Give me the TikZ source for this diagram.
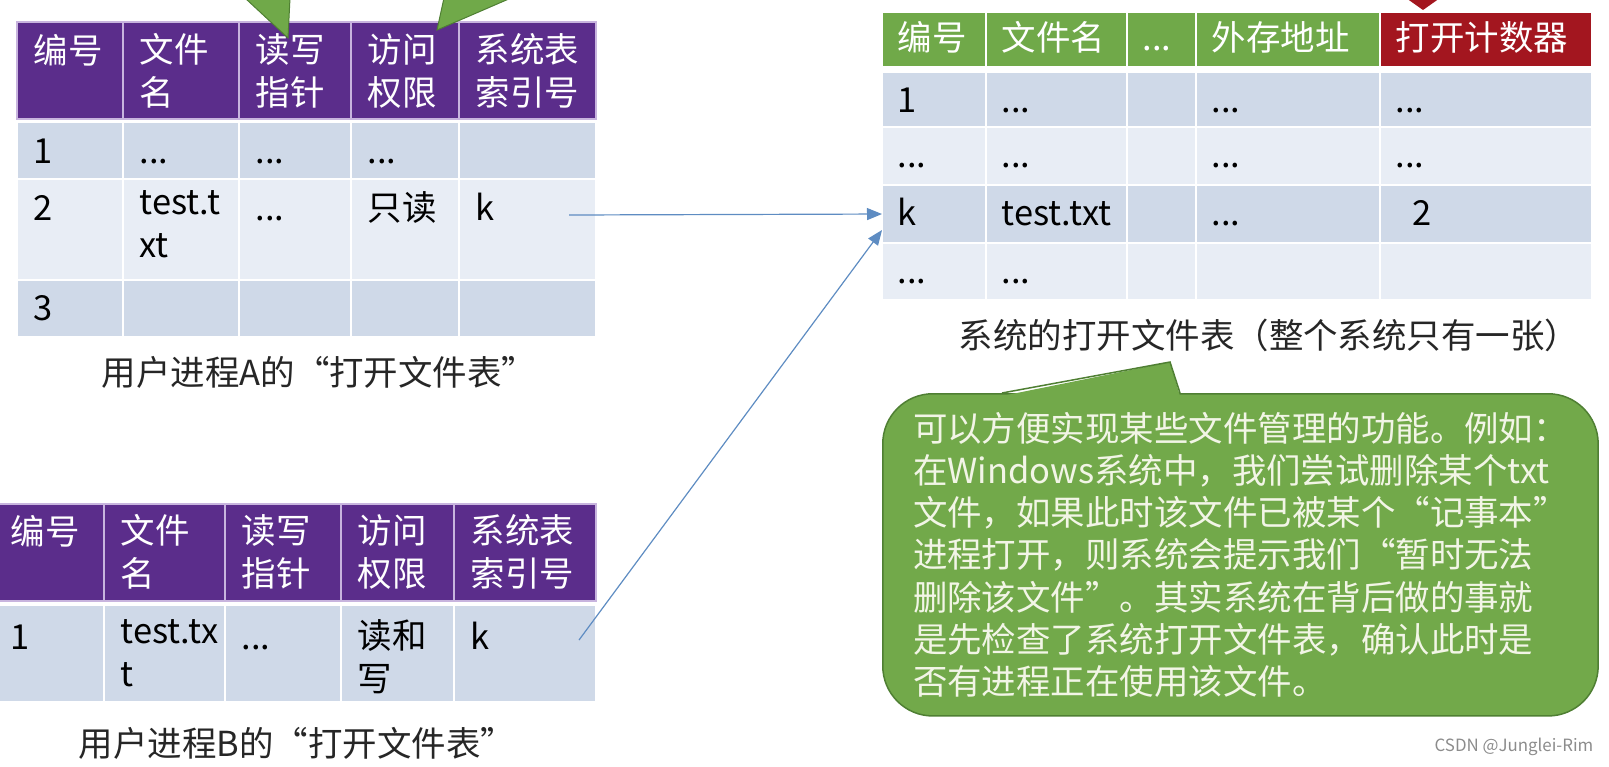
\documentclass[tikz,border=0pt]{standalone}
\usepackage{fontspec}
\setmainfont{Noto Sans CJK SC}
\usetikzlibrary{arrows.meta}
\definecolor{hdrpurple}{HTML}{5B2D8B}
\definecolor{hdrline}{HTML}{C8B4DE}
\definecolor{hdrgreen}{HTML}{70A949}
\definecolor{hdrred}{HTML}{A3161F}
\definecolor{bodydark}{HTML}{CFD9E8}
\definecolor{bodylight}{HTML}{E8EDF5}
\definecolor{notegreen}{HTML}{72A94A}
\definecolor{notedark}{HTML}{4F7F33}
\definecolor{notetext}{HTML}{F2F5E6}
\definecolor{ptrblue}{HTML}{5E8CC2}
\definecolor{captext}{HTML}{262626}
\newcommand\cellfont{\fontsize{9.8pt}{12.1pt}\selectfont}
\newcommand\etc{...}

\begin{document}
\begin{tikzpicture}[x=0.01cm,y=-0.01cm,
	tcell/.style={anchor=north west,inner sep=0pt,outer sep=0pt,line width=0.02cm,draw=white},
	purplecell/.style={tcell,fill=hdrpurple,draw=hdrline},
	darkrow/.style={tcell,fill=bodydark},
	lightrow/.style={tcell,fill=bodylight},
	celltext/.style={anchor=north west,inner sep=0pt,align=left,font=\cellfont,execute at begin node=\strut},
	captiontext/.style={font=\cellfont,text=captext,inner sep=0pt},
	ptr/.style={draw=ptrblue,line width=0.012cm,-{Triangle[length=0.15cm,width=0.12cm]}},
	note/.style={anchor=north west,minimum width=7.15cm,minimum height=3.22cm,rounded corners=0.5cm,fill=notegreen,draw=notedark,line width=0.015cm,align=left,font=\fontsize{9.8pt}{12.03pt}\selectfont,text=notetext}]
	\useasboundingbox (0,0) rectangle (1609,766);
	\foreach \x/\w/\t [count=\i] in {17/106/编号, 123/116/{文件\\名}, 239/112/{读写\\指针}, 351/108/{访问\\权限}, 459/137/{系统表\\索引号}}{
		\node[purplecell,minimum width=\w*0.01cm,minimum height=0.97cm] (a0\i) at (\x,22) {};
		\node[celltext,text=white] (a0t\i) at ([xshift=0.16cm,yshift=-0.11cm]a0\i.north west) {\t};}
	\foreach \x/\w/\t [count=\i] in {17/106/1, 123/116/\etc, 239/112/\etc, 351/108/\etc, 459/137/{}}{
		\node[darkrow,minimum width=\w*0.01cm,minimum height=0.57cm] (a1\i) at (\x,122) {};
		\node[celltext] (a1t\i) at ([xshift=0.16cm,yshift=-0.11cm]a1\i.north west) {\t};}
	\foreach \x/\w/\t [count=\i] in {17/106/2, 123/116/{test.t\\xt}, 239/112/\etc, 351/108/只读, 459/137/k}{
		\node[lightrow,minimum width=\w*0.01cm,minimum height=1.01cm] (a2\i) at (\x,179) {};
		\node[celltext] (a2t\i) at ([xshift=0.16cm,yshift=-0.11cm]a2\i.north west) {\t};}
	\foreach \x/\w/\t [count=\i] in {17/106/3, 123/116/{}, 239/112/{}, 351/108/{}, 459/137/{}}{
		\node[darkrow,minimum width=\w*0.01cm,minimum height=0.57cm] (a3\i) at (\x,280) {};
		\node[celltext] (a3t\i) at ([xshift=0.16cm,yshift=-0.10cm]a3\i.north west) {\t};}
	\node[captiontext] (capA) at (319,372) {用户进程A的“打开文件表”};

	\foreach \x/\w/\t [count=\i] in {-6/110/编号, 104/121/{文件\\名}, 225/116/{读写\\指针}, 341/113/{访问\\权限}, 454/142/{系统表\\索引号}}{
		\node[purplecell,minimum width=\w*0.01cm,minimum height=0.97cm] (b0\i) at (\x,504) {};
		\node[celltext,text=white] (b0t\i) at ([xshift=0.16cm,yshift=-0.10cm]b0\i.north west) {\t};}
	\foreach \x/\w/\t [count=\i] in {-6/110/1, 104/121/{test.tx\\t}, 225/116/\etc, 341/113/{读和\\写}, 454/142/k}{
		\node[darkrow,minimum width=\w*0.01cm,minimum height=0.97cm] (b1\i) at (\x,605) {};
		\node[celltext] (b1t\i) at ([xshift=0.16cm,yshift=-0.14cm]b1\i.north west) {\t};}
	\node[captiontext] (capB) at (297,743) {用户进程B的“打开文件表”};

	\foreach \x/\w/\c/\t [count=\i] in {882/104/hdrgreen/编号, 986/141/hdrgreen/文件名, 1127/69/hdrgreen/\etc, 1196/184/hdrgreen/外存地址, 1380/212/hdrred/打开计数器}{
		\node[tcell,fill=\c,minimum width=\w*0.01cm,minimum height=0.55cm] (s0\i) at (\x,12) {};
		\node[celltext,text=white] (s0t\i) at ([xshift=0.15cm,yshift=-0.08cm]s0\i.north west) {\t};}
	\foreach \x/\w/\t [count=\i] in {882/104/1, 986/141/\etc, 1127/69/{}, 1196/184/\etc, 1380/212/\etc}{
		\node[darkrow,minimum width=\w*0.01cm,minimum height=0.55cm] (s1\i) at (\x,72) {};
		\node[celltext] (s1t\i) at ([xshift=0.15cm,yshift=-0.10cm]s1\i.north west) {\t};}
	\foreach \x/\w/\t [count=\i] in {882/104/\etc, 986/141/\etc, 1127/69/{}, 1196/184/\etc, 1380/212/\etc}{
		\node[lightrow,minimum width=\w*0.01cm,minimum height=0.58cm] (s2\i) at (\x,127) {};
		\node[celltext] (s2t\i) at ([xshift=0.15cm,yshift=-0.10cm]s2\i.north west) {\t};}
	\foreach \x/\w/\t [count=\i] in {882/104/k, 986/141/test.txt, 1127/69/{}, 1196/184/\etc, 1380/212/{\enspace 2}}{
		\node[darkrow,minimum width=\w*0.01cm,minimum height=0.58cm] (s3\i) at (\x,185) {};
		\node[celltext] (s3t\i) at ([xshift=0.15cm,yshift=-0.10cm]s3\i.north west) {\t};}
	\foreach \x/\w/\t [count=\i] in {882/104/\etc, 986/141/\etc, 1127/69/{}, 1196/184/{}, 1380/212/{}}{
		\node[lightrow,minimum width=\w*0.01cm,minimum height=0.57cm] (s4\i) at (\x,243) {};
		\node[celltext] (s4t\i) at ([xshift=0.15cm,yshift=-0.10cm]s4\i.north west) {\t};}
	\node[captiontext] (capS) at (1269,335) {系统的打开文件表（整个系统只有一张）};

	\filldraw[fill=hdrgreen,draw=notedark,line width=0.01cm] (245,-2) -- (288,38) -- (290,-2) -- cycle;
	\filldraw[fill=hdrgreen,draw=notedark,line width=0.01cm] (444,-2) -- (437,30) -- (511,-2) -- cycle;
	\fill[hdrred] (1406,-2) -- (1423,10) -- (1440,-2) -- cycle;

	\coordinate (fromA) at (569,215);
	\coordinate (fromB) at (579,640);
	\draw[ptr] (fromA) -- (s31.west);
	\draw[ptr] (fromB) -- ([yshift=-0.16cm]s31.west);

	\node[note] (hint) at (882,393) {可以方便实现某些文件管理的功能。例如：\\在Windows系统中，我们尝试删除某个txt\\文件，如果此时该文件已被某个“记事本”\\进程打开，则系统会提示我们“暂时无法\\删除该文件”。其实系统在背后做的事就\\是先检查了系统打开文件表，确认此时是\\否有进程正在使用该文件。};
	\fill[notegreen] (1002,396) -- (1170,362) -- (1180,396) -- cycle;
	\draw[notedark,line width=0.015cm] (1002,393) -- (1170,362) -- (1180,393);
	\node[font=\fontsize{4.8pt}{5pt}\selectfont,text=black!45,anchor=east,inner sep=0pt] (mark) at (1594,747) {CSDN @Junglei-Rim};
\end{tikzpicture}
\end{document}
